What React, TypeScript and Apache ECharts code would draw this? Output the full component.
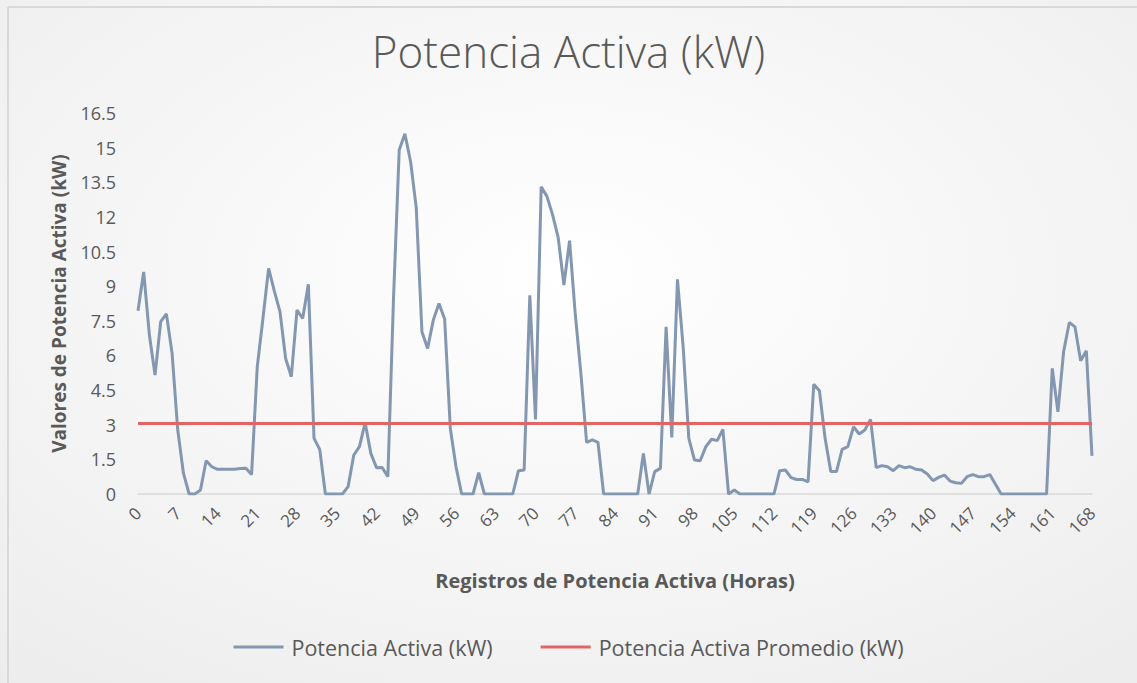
import React, { useEffect, useRef } from "react";
import * as echarts from "echarts";

const horas: string[] = Array.from({ length: 169 }, (_, i) => String(i));

const potenciaActiva: number[] = [
  7.94, 9.62, 6.9, 5.15, 7.46, 7.8, 6.1, 2.77, 0.9, 0, 0, 0.17, 1.44, 1.18, 1.07, 1.07, 1.07, 1.07, 1.1, 1.12,
  0.84, 5.5, 7.6, 9.77, 8.8, 7.9, 5.87, 5.08, 7.97, 7.6, 9.08, 2.41, 1.93, 0, 0, 0, 0, 0.32, 1.69, 2.05,
  3.09, 1.76, 1.14, 1.15, 0.75, 8.5, 14.9, 15.6, 14.4, 12.4, 7.03, 6.3, 7.53, 8.25, 7.58, 2.84, 1.18, 0, 0, 0,
  0.92, 0, 0, 0, 0, 0, 0, 1.01, 1.04, 8.6, 3.23, 13.3, 12.9, 12.1, 11.1, 9.05, 10.97, 7.8, 5.2, 2.24,
  2.34, 2.24, 0, 0, 0, 0, 0, 0, 0, 1.76, 0, 0.97, 1.11, 7.24, 2.45, 9.3, 6.38, 2.41, 1.47, 1.44,
  2.05, 2.37, 2.31, 2.8, 0, 0.17, 0, 0, 0, 0, 0, 0, 0, 1.01, 1.04, 0.71, 0.63, 0.63, 0.52, 4.75,
  4.47, 2.41, 0.97, 0.97, 1.93, 2.05, 2.91, 2.6, 2.77, 3.23, 1.14, 1.23, 1.18, 1.01, 1.23, 1.14, 1.18, 1.07, 1.04, 0.87,
  0.58, 0.72, 0.82, 0.56, 0.49, 0.46, 0.75, 0.84, 0.75, 0.75, 0.84, 0.42, 0, 0, 0, 0, 0, 0, 0, 0,
  0, 5.44, 3.56, 6.16, 7.43, 7.24, 5.77, 6.2, 1.65,
];

const promedio = 3.05;
const promedioLinea: [number, number][] = [
  [0, promedio],
  [168, promedio],
];

const TEXT = "#595959";
const FONT = "'Open Sans', sans-serif";

export default function App() {
  const ref = useRef<HTMLDivElement>(null);
  useEffect(() => {
    if (!ref.current) return;
    const chart = echarts.init(ref.current, undefined, { renderer: "svg" });
    chart.setOption({
      animation: false,
      backgroundColor: {
        type: "radial",
        x: 0.5,
        y: 0.4,
        r: 0.8,
        colorStops: [
          { offset: 0, color: "#ffffff" },
          { offset: 1, color: "#ececec" },
        ],
      },
      textStyle: { fontFamily: FONT },
      title: {
        text: "Potencia Activa (kW)",
        left: "center",
        top: 24,
        textStyle: { fontFamily: FONT, fontSize: 44, fontWeight: 300, color: TEXT },
      },
      graphic: [
        { type: "line", shape: { x1: 8, y1: 7, x2: 8, y2: 683 }, style: { stroke: "#d9d9d9", lineWidth: 2 } },
        { type: "line", shape: { x1: 8, y1: 7, x2: 1137, y2: 7 }, style: { stroke: "#d9d9d9", lineWidth: 2 } },
      ],
      legend: {
        bottom: 20,
        left: "center",
        icon: "rect",
        itemWidth: 50,
        itemHeight: 3,
        itemGap: 48,
        textStyle: { fontFamily: FONT, fontSize: 21.5, color: TEXT, padding: [0, 0, 0, 3] },
        data: ["Potencia Activa (kW)", "Potencia Activa Promedio (kW)"],
      },
      grid: { left: 138, right: 45, top: 113, bottom: 189, containLabel: false },
      xAxis: {
        type: "category",
        data: horas,
        boundaryGap: false,
        name: "Registros de Potencia Activa (Horas)",
        nameLocation: "middle",
        nameGap: 76,
        nameTextStyle: { fontFamily: FONT, fontSize: 20, fontWeight: "bold", color: TEXT },
        axisLine: { lineStyle: { color: "#d9d9d9", width: 1.5 } },
        axisTick: { show: false },
        axisLabel: {
          interval: 6,
          rotate: 45,
          margin: 16,
          fontFamily: FONT,
          fontSize: 17,
          color: TEXT,
        },
        splitLine: { show: false },
      },
      yAxis: {
        type: "value",
        min: 0,
        max: 16.5,
        interval: 1.5,
        name: "Valores de Potencia Activa (kW)",
        nameLocation: "middle",
        nameGap: 70,
        nameTextStyle: { fontFamily: FONT, fontSize: 19, fontWeight: "bold", color: TEXT },
        axisLine: { show: false },
        axisTick: { show: false },
        splitLine: { show: false },
        axisLabel: { margin: 22, fontFamily: FONT, fontSize: 18, color: TEXT },
      },
      series: [
        {
          name: "Potencia Activa (kW)",
          type: "line",
          data: potenciaActiva,
          showSymbol: false,
          symbol: "none",
          color: "#8497b0",
          lineStyle: { color: "#8497b0", width: 3 },
          z: 2,
        },
        {
          name: "Potencia Activa Promedio (kW)",
          type: "line",
          data: promedioLinea,
          showSymbol: false,
          symbol: "none",
          color: "#e46464",
          lineStyle: { color: "#e46464", width: 3 },
          z: 3,
        },
      ],
    });
    return () => chart.dispose();
  }, []);
  return (
    <div
      ref={ref}
      style={{ position: "absolute", left: 0, top: 0, width: 1137, height: 683 }}
    />
  );
}
